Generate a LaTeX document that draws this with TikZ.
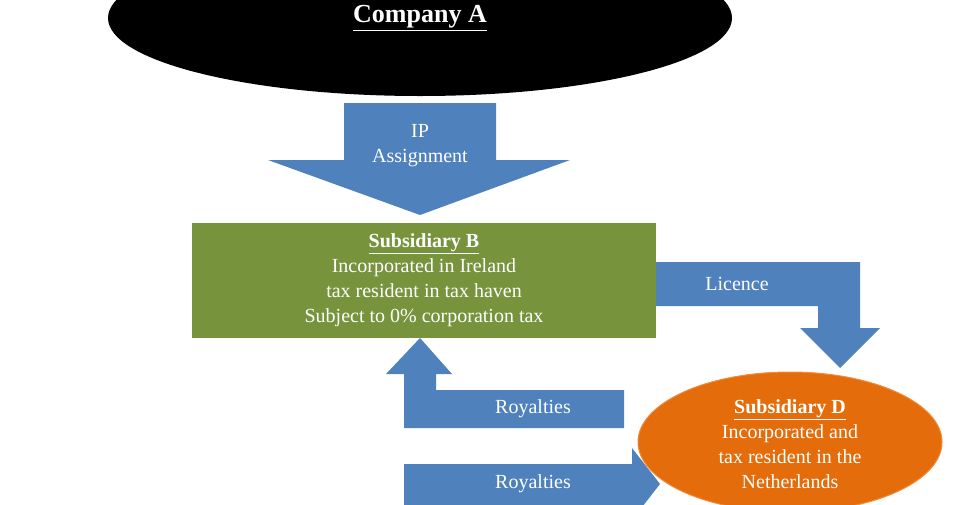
\documentclass[tikz,border=0pt]{standalone}
\usepackage{fontspec}
\setmainfont{Liberation Serif}
\usetikzlibrary{shapes.geometric}
\begin{document}
\begin{tikzpicture}[x=1pt,y=-1pt,
  arr/.style={fill={rgb,255:red,79;green,129;blue,189}},
  wtxt/.style={text=white,font=\fontsize{20}{25}\selectfont,align=center}]
\path[use as bounding box] (0,0) rectangle (960,504);
\clip (0,0) rectangle (960,504);
\node[ellipse,draw=none,fill=black,minimum width=624pt,minimum height=156pt] (a) at (420,18) {};
\node[wtxt,font=\fontsize{26}{30}\selectfont\bfseries] (at) at (420,18) {\underline{Company A}};
% IP arrow
\path[arr] (344,103) -- (496,103) -- (496,160) -- (570,160) -- (420,215) -- (268,160) -- (344,160) -- cycle;
\node[wtxt] (ip) at (420,146) {IP\\Assignment};
% green box
\node[fill={rgb,255:red,119;green,147;blue,60},minimum width=464pt,minimum height=115pt,anchor=north west] (b) at (192,223) {};
\node[wtxt] (bt) at (424,280) {\textbf{\underline{Subsidiary B}}\\Incorporated in Ireland\\tax resident in tax haven\\Subject to 0\% corporation tax};
% licence arrow
\path[arr] (656,262) -- (860,262) -- (860,328) -- (880,328) -- (840,368) -- (800,328) -- (818,328) -- (818,306) -- (656,306) -- cycle;
\node[wtxt] (lic) at (737,284) {Licence};
% up royalties
\path[arr] (624,390) -- (624,428) -- (404,428) -- (404,374) -- (386,374) -- (420,338) -- (452,374) -- (436,374) -- (436,390) -- cycle;
\node[wtxt] (r1) at (533,409) {Royalties};
% bottom royalties
\path[arr] (404,464) -- (632,464) -- (632,448) -- (660,484) -- (632,520) -- (632,510) -- (404,510) -- cycle;
\node[wtxt] (r2) at (533,484) {Royalties};
% orange ellipse
\node[ellipse,fill={rgb,255:red,228;green,108;blue,10},draw={rgb,255:red,240;green,140;blue,60},line width=1pt,minimum width=304pt,minimum height=140pt] (d) at (790,442) {};
\node[wtxt] (dt) at (790,444) {\textbf{\underline{Subsidiary D}}\\Incorporated and\\tax resident in the\\Netherlands};
\end{tikzpicture}
\end{document}
